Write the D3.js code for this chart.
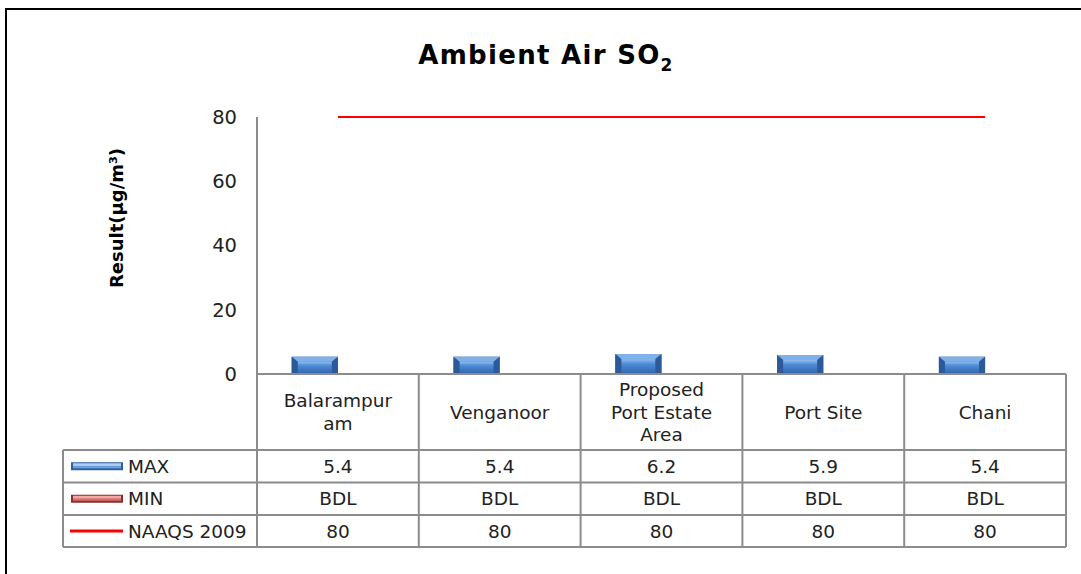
<!DOCTYPE html>
<html><head><meta charset="utf-8">
<script src="https://cdn.jsdelivr.net/npm/d3@7"></script>
<style>body{margin:0;background:#fff}svg{display:block}text{font-family:"DejaVu Sans",Verdana,sans-serif}</style>
</head><body><svg id="c" width="1081" height="574"></svg>
<script>
const categories = [["Balarampur","am"],["Venganoor"],["Proposed","Port Estate","Area"],["Port Site"],["Chani"]];
const maxValues = [5.4, 5.4, 6.2, 5.9, 5.4];
const minValues = [0, 0, 0, 0, 0];
const minLabels = ["BDL","BDL","BDL","BDL","BDL"];
const naaqs = [80, 80, 80, 80, 80];
const yTicks = [0, 20, 40, 60, 80];
const seriesNames = ["MAX","MIN","NAAQS 2009"];

const svg = d3.select("#c");
const defs = svg.append("defs");
function grad(id, stops){
  const g = defs.append("linearGradient").attr("id",id).attr("x1",0).attr("y1",0).attr("x2",0).attr("y2",1);
  stops.forEach(s=>g.append("stop").attr("offset",s[0]).attr("stop-color",s[1]));
}
grad("bTop",[[0,"#8fbdf0"],[0.35,"#4f8bd6"],[1,"#3468b0"]]);
grad("rTop",[[0,"#f3a9a7"],[0.35,"#d9706d"],[1,"#b04542"]]);

const L=257, R=1066, T=117, B=374;
const rows=[374,450,482.5,515,547];
const tableLeft=63;
const gridColor="#8c8c8c";
const fs=18.5;

svg.append("rect").attr("x",6).attr("y",9).attr("width",1100).attr("height",600).attr("fill","none").attr("stroke","#000").attr("stroke-width",2);

const x = d3.scaleBand().domain(d3.range(categories.length)).range([L,R]).paddingInner(0).paddingOuter(0);
const inner = d3.scaleBand().domain([0,1]).range([0,x.bandwidth()]).paddingInner(0).paddingOuter(0.75);
const y = d3.scaleLinear().domain([0,80]).range([B,T]);

const title = svg.append("text").attr("x",546).attr("y",64).attr("text-anchor","middle").attr("font-size",26).attr("font-weight","bold").attr("letter-spacing",1.3).attr("fill","#000");
title.append("tspan").text("Ambient Air SO");
title.append("tspan").attr("font-size",17).attr("dy",7).text("2");

svg.append("text").attr("transform","translate(123,218) rotate(-90)").attr("text-anchor","middle").attr("font-size",18).attr("font-weight","bold").text("Result(µg/m³)");

const yAxis = svg.append("g").attr("transform",`translate(${L},0)`).call(d3.axisLeft(y).tickValues(yTicks).tickSize(0).tickPadding(20));
yAxis.select(".domain").remove();
yAxis.selectAll("text").attr("font-size",19.5).attr("fill","#222").attr("font-family",'"DejaVu Sans",Verdana,sans-serif');

function bevelBar(g, x0, w, yTop, yBot, fillBase, topGrad, light){
  const h = yBot - yTop;
  if(h<=0) return;
  g.append("rect").attr("x",x0).attr("y",yTop).attr("width",w).attr("height",h).attr("fill",fillBase);
  const b=Math.min(5,h/3), s=6;
  g.append("path").attr("d",`M${x0},${yTop}L${x0+w},${yTop}L${x0+w-s},${yTop+b}L${x0+s},${yTop+b}Z`).attr("fill",light);
  g.append("rect").attr("x",x0+s).attr("y",yTop+b).attr("width",w-2*s).attr("height",Math.max(0,h-b-1)).attr("fill",`url(#${topGrad})`);
  g.append("path").attr("d",`M${x0},${yTop}L${x0+s},${yTop+b}L${x0+s},${yBot}L${x0},${yBot}Z`).attr("fill","#2a5794").attr("opacity",0.85);
  g.append("path").attr("d",`M${x0+w},${yTop}L${x0+w-s},${yTop+b}L${x0+w-s},${yBot}L${x0+w},${yBot}Z`).attr("fill","#2a5794").attr("opacity",0.85);
}
const bars = svg.append("g");
maxValues.forEach((v,i)=>{
  bevelBar(bars, x(i)+inner(0), inner.bandwidth(), y(v), y(0), "#3566a8", "bTop", "#7fb0ea");
});
minValues.forEach((v,i)=>{
  bevelBar(bars, x(i)+inner(1), inner.bandwidth(), y(v), y(0), "#a33c39", "rTop", "#eea2a0");
});

const line = d3.line().x((d,i)=>x(i)+x.bandwidth()/2).y(d=>y(d));
svg.append("path").datum(naaqs).attr("d",line).attr("fill","none").attr("stroke","#ff0000").attr("stroke-width",2);

const grid = svg.append("g").attr("stroke",gridColor).attr("stroke-width",2).attr("fill","none");
grid.append("line").attr("x1",L).attr("x2",L).attr("y1",T).attr("y2",rows[4]);
grid.append("line").attr("x1",L).attr("x2",R).attr("y1",rows[0]).attr("y2",rows[0]);
for(let r=1;r<rows.length;r++) grid.append("line").attr("x1",tableLeft).attr("x2",R).attr("y1",rows[r]).attr("y2",rows[r]);
grid.append("line").attr("x1",tableLeft).attr("x2",tableLeft).attr("y1",rows[1]).attr("y2",rows[4]);
categories.forEach((c,i)=>{
  grid.append("line").attr("x1",x(i)+x.bandwidth()).attr("x2",x(i)+x.bandwidth()).attr("y1",rows[0]).attr("y2",rows[4]);
});

const lh=22.5;
categories.forEach((c,i)=>{
  const cy=(rows[0]+rows[1])/2;
  const t=svg.append("text").attr("text-anchor","middle").attr("font-size",fs).attr("fill","#222");
  c.forEach((s,k)=>{
    t.append("tspan").attr("x",x(i)+x.bandwidth()/2).attr("y",cy+(k-(c.length-1)/2)*lh+6.5).text(s);
  });
});

const rowVals=[maxValues.map(String), minLabels, naaqs.map(String)];
rowVals.forEach((vals,r)=>{
  const cy=(rows[r+1]+rows[r+2])/2;
  vals.forEach((v,i)=>{
    svg.append("text").attr("x",x(i)+x.bandwidth()/2).attr("y",cy+6.5).attr("text-anchor","middle").attr("font-size",fs).attr("fill","#222").text(v);
  });
  svg.append("text").attr("x",128).attr("y",cy+6.5).attr("font-size",fs).attr("fill","#222").text(seriesNames[r]);
});

const k1=(rows[1]+rows[2])/2, k2=(rows[2]+rows[3])/2, k3=(rows[3]+rows[4])/2;
function keyBar(cy, base, light, mid){
  svg.append("rect").attr("x",71).attr("y",cy-4).attr("width",52).attr("height",8).attr("fill",base);
  svg.append("rect").attr("x",73).attr("y",cy-3).attr("width",48).attr("height",3).attr("fill",light);
  svg.append("rect").attr("x",73).attr("y",cy).attr("width",48).attr("height",2).attr("fill",mid);
}
keyBar(k1,"#2f5f9f","#a9cdf5","#6fa3e0");
keyBar(k2,"#8c2f2c","#f3a9a7","#d9706d");
svg.append("line").attr("x1",70).attr("x2",123).attr("y1",k3).attr("y2",k3).attr("stroke","#ff0000").attr("stroke-width",3);
</script></body></html>
